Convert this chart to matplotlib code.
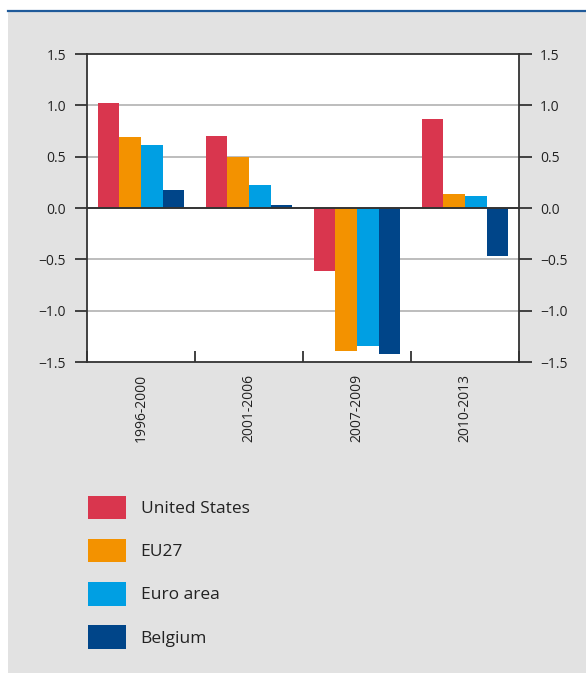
import numpy as np
import matplotlib
matplotlib.use("Agg")
import matplotlib.pyplot as plt
from matplotlib.patches import Patch, Rectangle
from matplotlib.lines import Line2D

# data
periods = ["1996-2000", "2001-2006", "2007-2009", "2010-2013"]
united_states = [1.02, 0.70, -0.61, 0.87]
eu27 = [0.69, 0.50, -1.39, 0.14]
euro_area = [0.61, 0.22, -1.34, 0.12]
belgium = [0.175, 0.03, -1.42, -0.47]

series_names = ["United States", "EU27", "Euro area", "Belgium"]
colors = ["#D9364E", "#F39200", "#009FE3", "#004589"]

plt.rcParams['font.family'] = ['Open Sans', 'DejaVu Sans']

W, H = 586, 673
fig = plt.figure(figsize=(W / 100, H / 100), dpi=100, facecolor="white")

# grey panel and blue top rule
fig.patches.append(Rectangle((8 / W, 0), 1 - 8 / W, (H - 12) / H,
                             transform=fig.transFigure, facecolor="#E2E2E2",
                             edgecolor="none", zorder=-10))
fig.lines.append(Line2D([8 / W, 1], [(H - 10.5) / H] * 2, transform=fig.transFigure,
                        color="#1F5A9A", linewidth=1.6, zorder=-5))

ax = fig.add_axes([87 / W, (H - 362) / H, (519 - 87) / W, (362 - 54) / H])
ax.set_facecolor("white")

x = np.arange(len(periods))
width = 0.2
all_series = [united_states, eu27, euro_area, belgium]
for i, (vals, name, c) in enumerate(zip(all_series, series_names, colors)):
    ax.bar(x + (i - 1.5) * width, vals, width, color=c, label=name, zorder=3)

ax.set_xlim(-0.5, len(periods) - 0.5)
ax.set_ylim(-1.5, 1.5)
yt = [-1.5, -1.0, -0.5, 0.0, 0.5, 1.0, 1.5]
ax.set_yticks(yt)
ax.set_yticklabels([f"{v:.1f}".replace("-", "\u2212") for v in yt])

# grid lines
for v in [-1.0, -0.5, 0.5, 1.0]:
    ax.axhline(v, color="#BDBDBD", linewidth=1.4, zorder=1)
ax.axhline(0, color="#333333", linewidth=1.4, zorder=4)

for s in ax.spines.values():
    s.set_color("#333333")
    s.set_linewidth(1.3)

ax.tick_params(axis="y", which="both", direction="out", length=9, width=1.3,
               color="#333333", labelsize=10, labelcolor="#222222", pad=6,
               left=True, right=True, labelleft=True, labelright=True)

# category boundary ticks on x axis, pointing inward
ax.set_xticks(np.arange(-0.5, len(periods), 1.0))
ax.set_xticklabels([])
ax.tick_params(axis="x", direction="in", length=8, width=1.3, color="#333333")
for xi, lab in zip(x, periods):
    ax.text(xi, -1.62, lab, rotation=90, ha="center", va="top", fontsize=10,
            color="#222222")

handles = [Patch(facecolor=c, edgecolor="none") for c in colors]
fig.legend(handles, series_names, loc="upper left",
           bbox_to_anchor=(72 / W, (H - 480) / H), frameon=False,
           fontsize=12.5, handlelength=2.19, handleheight=1.71,
           handletextpad=0.86, labelspacing=1.13, labelcolor="#222222")

fig.savefig("out.png", dpi=100, facecolor=fig.get_facecolor())
